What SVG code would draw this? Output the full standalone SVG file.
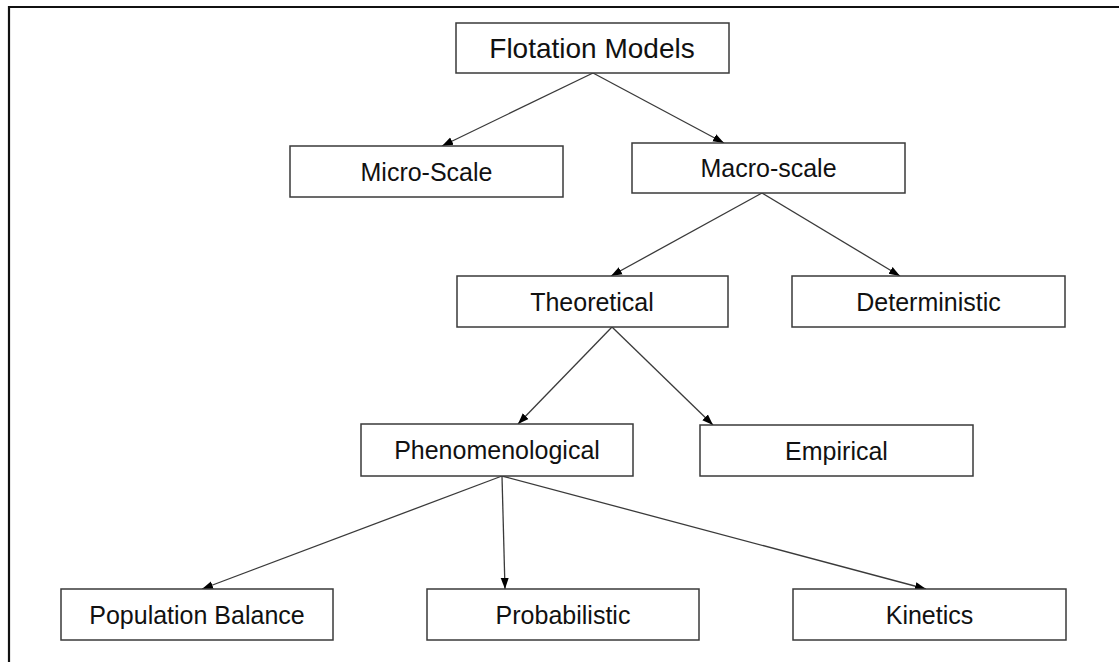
<svg xmlns="http://www.w3.org/2000/svg" width="1119" height="662" viewBox="0 0 1119 662">
  <style>
    .box { fill: #ffffff; stroke: #3a3a3a; stroke-width: 1.5; }
    .label { font-family: "Liberation Sans", Arial, sans-serif; font-size: 25px; fill: #111111; text-anchor: middle; }
    .title { font-size: 28px; }
    .edge { stroke: #3a3a3a; stroke-width: 1.3; fill: none; marker-end: url(#arrow); }
    .frame { stroke: #111111; stroke-width: 2.2; fill: none; }
  </style>
  <defs>
    <marker id="arrow" markerUnits="userSpaceOnUse" markerWidth="12" markerHeight="10" viewBox="0 0 12 10" refX="11" refY="5" orient="auto">
      <path d="M0,1 L11,5 L0,9 Z" fill="#000000"/>
    </marker>
  </defs>

  <rect width="1119" height="662" fill="#ffffff"/>
  <!-- page frame (top and left edges) -->
  <path class="frame" d="M9,662 L9,7 L1119,7"/>

  <g id="connectors">
    <line class="edge" x1="593" y1="73" x2="442" y2="146"/>
    <line class="edge" x1="593" y1="73" x2="724" y2="143"/>
    <line class="edge" x1="762" y1="193" x2="611" y2="276"/>
    <line class="edge" x1="762" y1="193" x2="900" y2="276"/>
    <line class="edge" x1="612" y1="327" x2="518" y2="424"/>
    <line class="edge" x1="612" y1="327" x2="713" y2="425"/>
    <line class="edge" x1="502" y1="476" x2="202" y2="589"/>
    <line class="edge" x1="502" y1="476" x2="505" y2="589"/>
    <line class="edge" x1="502" y1="476" x2="926" y2="589"/>
  </g>

  <g id="flotation-models">
    <rect class="box" x="456" y="23" width="273" height="50"/>
    <text class="label title" x="592" y="58">Flotation Models</text>
  </g>
  <g id="micro-scale">
    <rect class="box" x="290" y="146" width="273" height="51"/>
    <text class="label" x="426.5" y="180.5">Micro-Scale</text>
  </g>
  <g id="macro-scale">
    <rect class="box" x="632" y="143" width="273" height="50"/>
    <text class="label" x="768.5" y="177">Macro-scale</text>
  </g>
  <g id="theoretical">
    <rect class="box" x="457" y="276" width="271" height="51"/>
    <text class="label" x="592" y="310.5">Theoretical</text>
  </g>
  <g id="deterministic">
    <rect class="box" x="792" y="276" width="273" height="51"/>
    <text class="label" x="928.5" y="310.5">Deterministic</text>
  </g>
  <g id="phenomenological">
    <rect class="box" x="361" y="424" width="272" height="52"/>
    <text class="label" x="497" y="459">Phenomenological</text>
  </g>
  <g id="empirical">
    <rect class="box" x="700" y="425" width="273" height="51"/>
    <text class="label" x="836.5" y="459.5">Empirical</text>
  </g>
  <g id="population-balance">
    <rect class="box" x="61" y="589" width="272" height="51"/>
    <text class="label" x="197" y="623.5">Population Balance</text>
  </g>
  <g id="probabilistic">
    <rect class="box" x="427" y="589" width="272" height="51"/>
    <text class="label" x="563" y="623.5">Probabilistic</text>
  </g>
  <g id="kinetics">
    <rect class="box" x="793" y="589" width="273" height="51"/>
    <text class="label" x="929.5" y="623.5">Kinetics</text>
  </g>
</svg>
